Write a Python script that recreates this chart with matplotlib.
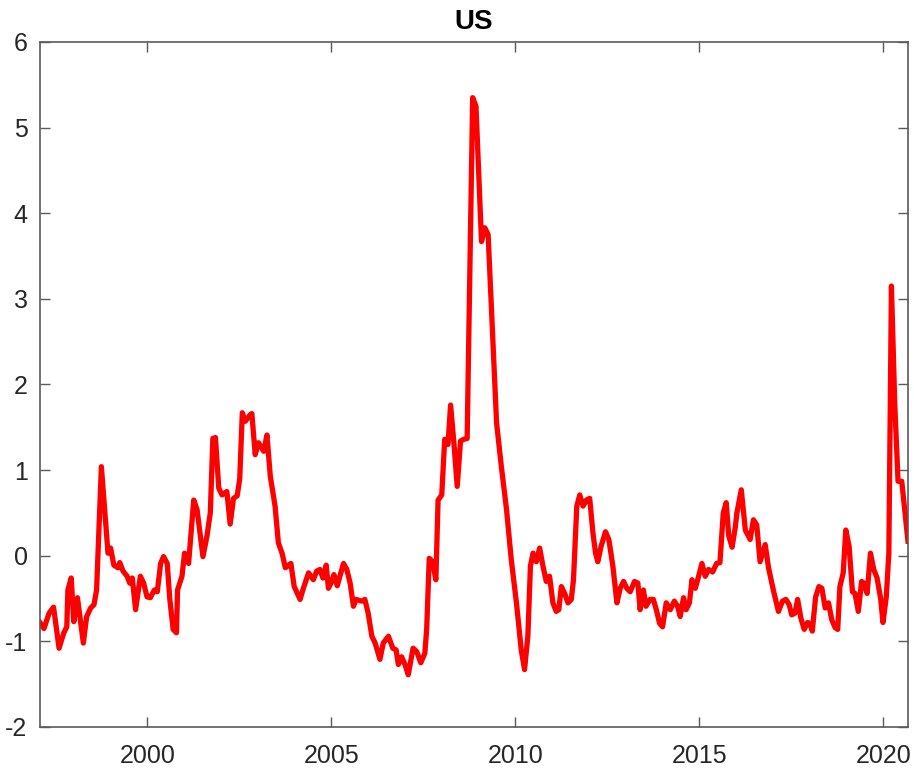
import numpy as np
import matplotlib
matplotlib.use("Agg")
import matplotlib.pyplot as plt

plt.rcParams['font.family'] = ['Liberation Sans', 'DejaVu Sans']
plt.rcParams['axes.unicode_minus'] = False

# decimal year / indicator value
dates = [1997.08, 1997.19, 1997.33, 1997.45, 1997.60, 1997.73, 1997.81, 1997.84, 1997.93, 1998.00,
         1998.10, 1998.26, 1998.35, 1998.46, 1998.55, 1998.62, 1998.75, 1998.84, 1998.93, 1999.00,
         1999.09, 1999.20, 1999.25, 1999.34, 1999.45, 1999.52, 1999.59, 1999.68, 1999.81, 1999.90,
         1999.99, 2000.08, 2000.19, 2000.27, 2000.36, 2000.44, 2000.54, 2000.61, 2000.70, 2000.79,
         2000.82, 2000.94, 2001.01, 2001.12, 2001.26, 2001.35, 2001.51, 2001.62, 2001.71, 2001.78,
         2001.85, 2001.94, 2002.03, 2002.16, 2002.25, 2002.34, 2002.44, 2002.51, 2002.58, 2002.66,
         2002.80, 2002.84, 2002.93, 2003.02, 2003.16, 2003.25, 2003.34, 2003.47, 2003.56, 2003.66,
         2003.75, 2003.90, 2003.99, 2004.15, 2004.24, 2004.38, 2004.51, 2004.60, 2004.69, 2004.77,
         2004.86, 2004.92, 2005.01, 2005.07, 2005.16, 2005.33, 2005.42, 2005.51, 2005.60, 2005.67,
         2005.83, 2005.91, 2006.00, 2006.10, 2006.19, 2006.32, 2006.41, 2006.55, 2006.67, 2006.76,
         2006.82, 2006.91, 2007.00, 2007.09, 2007.22, 2007.32, 2007.43, 2007.54, 2007.59, 2007.66,
         2007.75, 2007.84, 2007.90, 2008.00, 2008.08, 2008.17, 2008.24, 2008.33, 2008.42, 2008.51,
         2008.60, 2008.69, 2008.84, 2008.93, 2009.08, 2009.17, 2009.26, 2009.49, 2009.62, 2009.76,
         2009.89, 2010.03, 2010.16, 2010.25, 2010.34, 2010.41, 2010.48, 2010.57, 2010.66, 2010.75,
         2010.84, 2010.93, 2011.02, 2011.11, 2011.18, 2011.25, 2011.34, 2011.43, 2011.52, 2011.58,
         2011.67, 2011.75, 2011.84, 2011.93, 2012.02, 2012.11, 2012.18, 2012.24, 2012.33, 2012.45,
         2012.54, 2012.65, 2012.76, 2012.85, 2012.94, 2013.03, 2013.12, 2013.24, 2013.33, 2013.39,
         2013.48, 2013.55, 2013.66, 2013.75, 2013.83, 2013.92, 2014.00, 2014.10, 2014.21, 2014.32,
         2014.41, 2014.48, 2014.57, 2014.64, 2014.73, 2014.80, 2014.89, 2014.98, 2015.07, 2015.16,
         2015.25, 2015.36, 2015.47, 2015.56, 2015.65, 2015.73, 2015.80, 2015.89, 2015.98, 2016.02,
         2016.14, 2016.25, 2016.38, 2016.47, 2016.56, 2016.65, 2016.79, 2016.88, 2017.01, 2017.15,
         2017.26, 2017.35, 2017.44, 2017.51, 2017.60, 2017.67, 2017.76, 2017.85, 2017.94, 2018.00,
         2018.07, 2018.16, 2018.25, 2018.33, 2018.42, 2018.51, 2018.60, 2018.69, 2018.76, 2018.82,
         2018.91, 2018.98, 2019.07, 2019.16, 2019.23, 2019.32, 2019.41, 2019.47, 2019.56, 2019.65,
         2019.74, 2019.83, 2019.93, 2019.99, 2020.08, 2020.15, 2020.22, 2020.31, 2020.40, 2020.50,
         2020.58, 2020.67]

values = [-0.78, -0.85, -0.67, -0.60, -1.08, -0.90, -0.83, -0.40, -0.26, -0.77,
          -0.49, -1.02, -0.71, -0.61, -0.57, -0.40, 1.04, 0.54, 0.03, 0.09,
          -0.11, -0.14, -0.08, -0.18, -0.24, -0.32, -0.26, -0.63, -0.24, -0.32,
          -0.48, -0.49, -0.40, -0.42, -0.09, -0.01, -0.09, -0.51, -0.86, -0.90,
          -0.40, -0.24, 0.03, -0.09, 0.65, 0.54, -0.01, 0.23, 0.50, 1.37,
          1.38, 0.79, 0.71, 0.75, 0.37, 0.67, 0.70, 0.90, 1.67, 1.57,
          1.65, 1.66, 1.18, 1.32, 1.22, 1.41, 0.93, 0.58, 0.15, 0.03,
          -0.14, -0.09, -0.36, -0.51, -0.38, -0.20, -0.28, -0.18, -0.16, -0.26,
          -0.11, -0.38, -0.30, -0.22, -0.35, -0.09, -0.16, -0.32, -0.59, -0.51,
          -0.53, -0.51, -0.67, -0.94, -1.02, -1.21, -1.02, -0.94, -1.08, -1.10,
          -1.27, -1.18, -1.27, -1.39, -1.08, -1.12, -1.25, -1.14, -0.86, -0.03,
          -0.07, -0.28, 0.65, 0.71, 1.36, 1.30, 1.76, 1.32, 0.81, 1.34,
          1.36, 1.37, 5.35, 5.25, 3.67, 3.83, 3.75, 1.55, 1.04, 0.54,
          -0.05, -0.55, -1.10, -1.33, -0.94, -0.12, 0.03, -0.07, 0.09, -0.12,
          -0.30, -0.24, -0.55, -0.65, -0.63, -0.36, -0.44, -0.55, -0.51, -0.28,
          0.58, 0.71, 0.58, 0.65, 0.67, 0.26, 0.03, -0.07, 0.11, 0.28,
          0.19, -0.12, -0.55, -0.38, -0.30, -0.38, -0.42, -0.30, -0.32, -0.63,
          -0.40, -0.59, -0.51, -0.51, -0.63, -0.79, -0.83, -0.55, -0.63, -0.53,
          -0.59, -0.71, -0.49, -0.63, -0.55, -0.28, -0.38, -0.24, -0.09, -0.24,
          -0.16, -0.19, -0.09, -0.08, 0.50, 0.62, 0.23, 0.10, 0.34, 0.50,
          0.77, 0.30, 0.19, 0.42, 0.36, -0.07, 0.13, -0.14, -0.40, -0.65,
          -0.53, -0.51, -0.57, -0.69, -0.67, -0.51, -0.73, -0.86, -0.78, -0.79,
          -0.88, -0.48, -0.36, -0.38, -0.61, -0.55, -0.75, -0.84, -0.86, -0.36,
          -0.20, 0.30, 0.11, -0.42, -0.44, -0.65, -0.30, -0.32, -0.44, 0.03,
          -0.16, -0.26, -0.51, -0.78, -0.48, 0.03, 3.15, 1.78, 0.87, 0.87,
          0.54, 0.17]

xticks = [2000, 2005, 2010, 2015, 2020]
yticks = [-2, -1, 0, 1, 2, 3, 4, 5, 6]

fig = plt.figure(figsize=(9.14, 7.72), dpi=100)
ax = fig.add_axes([0.0438, 0.0583, 0.9495, 0.8873])
ax.plot(dates, values, color='#ff0000', linewidth=3.8, solid_joinstyle='round')

ax.set_xlim(1997.083, 2020.667)
ax.set_ylim(-2, 6)
ax.set_xticks(xticks)
ax.set_yticks(yticks)
ax.tick_params(direction='in', length=7, width=1.0, color='#5a5a5a',
               labelsize=18, labelcolor='#262626', top=True, right=True)
ax.tick_params(axis='x', pad=12)
ax.tick_params(axis='y', pad=9)
for s in ax.spines.values():
    s.set_color('#5a5a5a')
    s.set_linewidth(1.2)

ax.set_title('US', fontsize=20, fontweight='bold', pad=9)

plt.savefig('out.png', dpi=100)
